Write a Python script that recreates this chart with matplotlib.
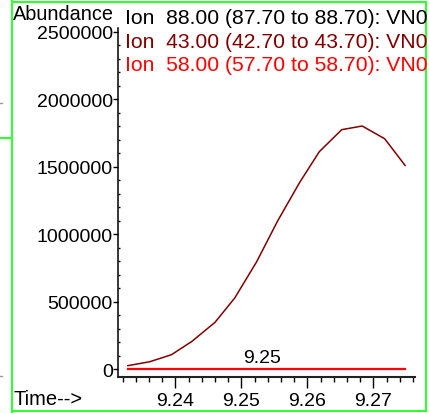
import matplotlib.pyplot as plt
from matplotlib.ticker import MultipleLocator
from matplotlib.lines import Line2D

plt.rcParams['font.family'] = ['Liberation Sans', 'DejaVu Sans']

# scan times (min) and ion abundances
times = [9.2328, 9.2361, 9.2394, 9.2425, 9.2460, 9.2490, 9.2523,
         9.2555, 9.2588, 9.2618, 9.2652, 9.2683, 9.2717, 9.2748]
ion88 = [0, 0, 0, 0, 0, 0, 0, 0, 0, 0, 0, 0, 0, 0]
ion43 = [25000, 54000, 106000, 205000, 346000, 527000, 794000,
         1098000, 1380000, 1610000, 1773000, 1800000, 1706000, 1508000]
ion58 = [0, 0, 0, 0, 0, 0, 0, 0, 0, 0, 0, 0, 0, 0]

legend_labels = ['Ion  88.00 (87.70 to 88.70): VN0',
                 'Ion  43.00 (42.70 to 43.70): VN0',
                 'Ion  58.00 (57.70 to 58.70): VN0']
colors = ['black', '#800000', '#ff0000']
peak_time = 9.2532
peak_label = '9.25'

W, H = 429, 414
fig = plt.figure(figsize=(W / 100, H / 100), dpi=100)
ax = fig.add_axes([118 / W, 1 - 378 / H, (415 - 118) / W, (378 - 29) / H])

ax.plot(times, ion88, color=colors[0], lw=1.1)
ax.plot(times, ion43, color=colors[1], lw=1.1)
ax.plot(times, ion58, color=colors[2], lw=1.6)
ax.text(peak_time, 22000, peak_label, ha='center', va='bottom', fontsize=14)

ax.set_xlim(9.2313, 9.2763)
ax.set_ylim(-59000, 2526000)
ax.spines['top'].set_visible(False)
ax.spines['right'].set_visible(False)
ax.spines['left'].set_linewidth(1.1)
ax.spines['bottom'].set_linewidth(1.5)
ax.spines['bottom'].set_color('#222222')

ax.xaxis.set_major_locator(MultipleLocator(0.01))
ax.xaxis.set_minor_locator(MultipleLocator(0.002))
ax.yaxis.set_major_locator(MultipleLocator(500000))
ax.yaxis.set_minor_locator(MultipleLocator(100000))
ax.xaxis.set_major_formatter(lambda v, p: f'{v:.2f}')
ax.yaxis.set_major_formatter(lambda v, p: f'{v:.0f}')
ax.tick_params(axis='x', which='major', direction='out', length=8, width=1, pad=3, labelsize=14)
ax.tick_params(axis='x', which='minor', direction='out', length=3.8, width=1)
ax.tick_params(axis='y', which='major', direction='out', length=3.3, width=1, pad=0.5, labelsize=14)
ax.tick_params(axis='y', which='minor', direction='in', length=1.5, width=1)

# header texts
fig.text(13 / W, 1 - 15 / H, 'Abundance', ha='left', va='center', fontsize=14.3)
for i, (lab, c) in enumerate(zip(legend_labels, colors)):
    fig.text(125 / W, 1 - (18.5 + 23.5 * i) / H, lab, ha='left', va='center',
             fontsize=15.2, color=c)
fig.text(13 / W, 1 - 400 / H, 'Time-->', ha='left', va='center', fontsize=14.5)

# green window frame
green = '#33ff33'
def fline(xs, ys, **kw):
    fig.add_artist(Line2D([x / W for x in xs], [1 - y / H for y in ys],
                          transform=fig.transFigure, **kw))

fline([11.5, 11.5], [0, 414], color=green, lw=1.5)
fline([11.5, 426], [3, 3], color=green, lw=1.5)
fline([426, 426], [3, 412], color=green, lw=1.5)
fline([11.5, 426], [412, 412], color=green, lw=1.5)
fline([0, 11.5], [139, 139], color=green, lw=1.5)
fline([0, 1.5], [104, 104], color='#999999', lw=1)
fline([0, 1.5], [377, 377], color='#999999', lw=1)

fig.savefig('out.png', dpi=100)
